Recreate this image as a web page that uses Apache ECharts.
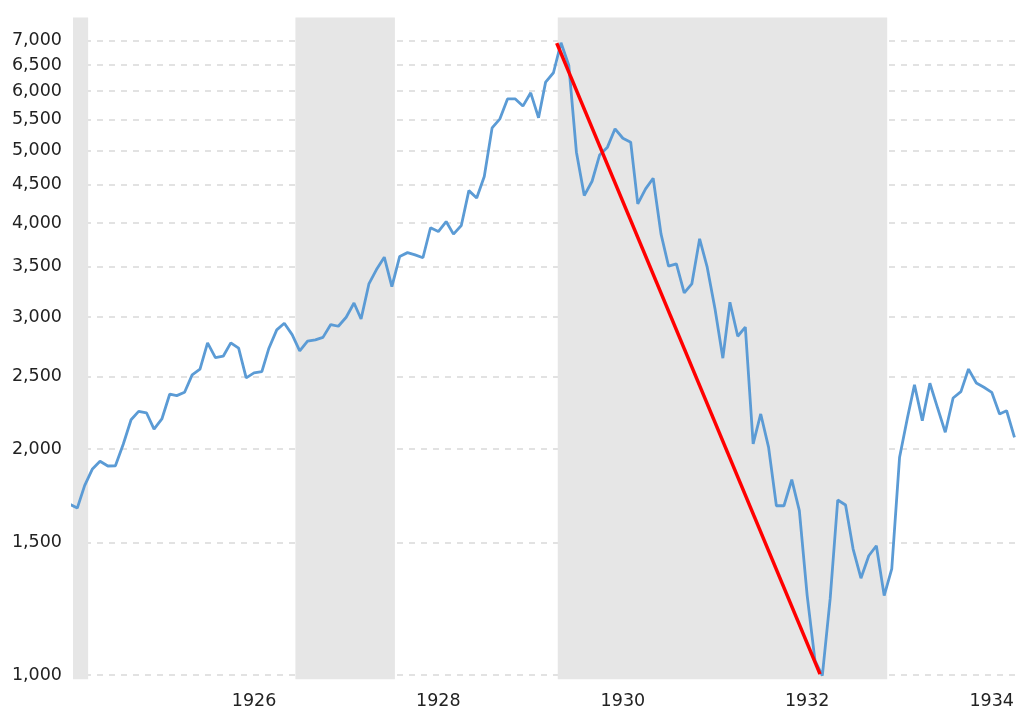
<!DOCTYPE html>
<html>
<head>
<meta charset="utf-8">
<title>DJIA 1924-1934</title>
<script src="https://cdn.jsdelivr.net/npm/echarts@6/dist/echarts.min.js"></script>
<style>
  html, body { margin: 0; padding: 0; background: #fff; }
  #chart { width: 1017px; height: 711px; }
</style>
</head>
<body>
<div id="chart"></div>
<script>
// monthly closes, one row per year, starting 1924-01
const startYear = 1924;
const values = [
  1690, 1669, 1788, 1882, 1927, 1899, 1900, 2030, 2189, 2246, 2236, 2127, // 1924
  2194, 2367, 2357, 2381, 2512, 2557, 2771, 2649, 2660, 2771, 2726, 2489, // 1925
  2527, 2537, 2726, 2884, 2943, 2842, 2704, 2786, 2797, 2818, 2931, 2916, // 1926
  2998, 3132, 2982, 3320, 3470, 3604, 3293, 3613, 3655, 3630, 3598, 3945, // 1927
  3899, 4021, 3868, 3972, 4421, 4323, 4616, 5360, 5510, 5858, 5858, 5730, // 1928
  5968, 5527, 6167, 6347, 6958, 6490, 4974, 4354, 4550, 4933, 5052, 5344, // 1929
  5192, 5129, 4245, 4444, 4592, 3872, 3506, 3531, 3231, 3320, 3813, 3495, // 1930
  3075, 2644, 3139, 2828, 2908, 2032, 2228, 2012, 1681, 1681, 1821, 1656, // 1931
  1276, 1045, 998, 1263, 1711, 1685, 1472, 1346, 1442, 1487, 1276, 1385,  // 1932
  1951, 2200, 2436, 2183, 2448, 2267, 2106, 2340, 2386, 2557, 2450, 2418, // 1933
  2381, 2228, 2250, 2073                                                  // 1934
];

// shaded periods
const recessions = [
  ['1924-01-15', '1924-03-15'],
  ['1926-06-14', '1927-07-13'],
  ['1929-04-18', '1932-11-13']
];

// red peak-to-trough line
const crashDates = ['1929-04-14', '1932-02-21'];
const crashValues = [6950, 1003];

const yTicks = [1000, 1500, 2000, 2500, 3000, 3500, 4000, 4500, 5000, 5500, 6000, 6500, 7000];
const xTickYears = [1926, 1928, 1930, 1932, 1934];

const ts = (s) => {
  const p = s.split('-').map(Number);
  return Date.UTC(p[0], p[1] - 1, p[2]);
};
const pad = (n) => (n < 10 ? '0' + n : '' + n);
const seriesData = values.map((v, i) => {
  const y = startYear + Math.floor(i / 12);
  const m = (i % 12) + 1;
  return [ts(y + '-' + pad(m) + '-01'), v];
});
const crashData = crashDates.map((d, i) => [ts(d), crashValues[i]]);
const xTicks = xTickYears.map((y) => Date.UTC(y, 0, 1));

const chart = echarts.init(document.getElementById('chart'));
const font = 'DejaVu Sans';

const option = {
  animation: false,
  backgroundColor: '#fff',
  grid: {
    left: 73,
    right: 0,
    top: 17.5,
    bottom: 31.7,
    containLabel: false,
  },
  xAxis: {
    type: 'value',
    min: ts('1924-01-15'),
    max: ts('1934-04-07'),
    axisLine: { show: false },
    axisTick: { show: false, customValues: xTicks },
    splitLine: { show: false },
    axisLabel: {
      customValues: xTicks,
      formatter: (val) => '' + new Date(val).getUTCFullYear(),
      fontFamily: font,
      fontSize: 17.5,
      color: '#222',
      margin: 13,
    },
  },
  yAxis: {
    type: 'log',
    min: 987,
    max: 7520,
    axisLine: { show: false },
    axisTick: { show: false, customValues: yTicks },
    axisLabel: {
      customValues: yTicks,
      formatter: (val) => Math.round(val).toLocaleString('en-US'),
      fontFamily: font,
      fontSize: 17.5,
      color: '#222',
      margin: 11,
    },
    splitLine: {
      show: true,
      lineStyle: { color: '#d9d9d9', width: 1.5, type: [6, 6] },
    },
  },
  series: [
    {
      name: 'bands',
      type: 'line',
      data: [],
      z: -1,
      silent: true,
      markArea: {
        silent: true,
        itemStyle: { color: '#e6e6e6' },
        data: recessions.map((r) => [{ xAxis: ts(r[0]) }, { xAxis: ts(r[1]) }]),
      },
    },
    {
      name: 'DJIA',
      type: 'line',
      data: seriesData,
      showSymbol: false,
      symbol: 'none',
      clip: true,
      lineStyle: { color: '#5b9bd5', width: 2.8 },
      itemStyle: { color: '#5b9bd5' },
      z: 3,
    },
    {
      name: 'crash',
      type: 'line',
      data: crashData,
      symbol: 'none',
      lineStyle: { color: '#ff0000', width: 3.5 },
      itemStyle: { color: '#ff0000' },
      z: 4,
    },
  ],
};
chart.setOption(option);
</script>
</body>
</html>
